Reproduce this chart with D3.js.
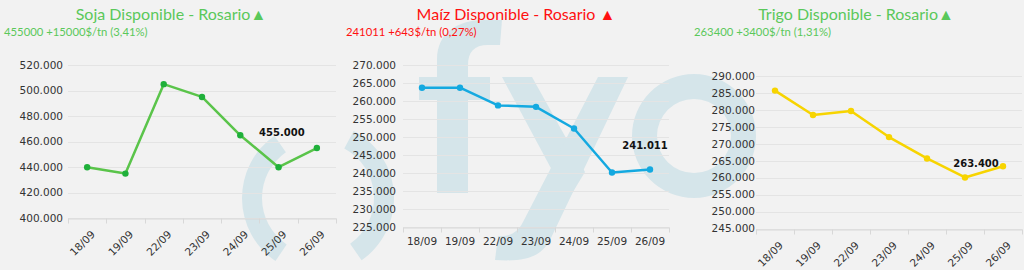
<!DOCTYPE html>
<html>
<head>
<meta charset="utf-8">
<script src="https://cdnjs.cloudflare.com/ajax/libs/d3/7.8.5/d3.min.js"></script>
<style>
  html, body { margin: 0; padding: 0; background: #f2f2f2; }
  svg { display: block; }
</style>
</head>
<body>
<svg id="chart" width="1024" height="270"></svg>
<script>
// data
const dates = ["18/09", "19/09", "22/09", "23/09", "24/09", "25/09", "26/09"];
const soja = [440000, 435000, 505000, 495000, 465000, 440000, 455000];
const maiz = [263700, 263700, 258800, 258400, 252400, 240200, 241011];
const trigo = [285700, 278500, 279700, 272000, 265700, 260100, 263400];

const sojaTicks = [400000, 420000, 440000, 460000, 480000, 500000, 520000];
const maizTicks = [225000, 230000, 235000, 240000, 245000, 250000, 255000, 260000, 265000, 270000];
const trigoTicks = [245000, 250000, 255000, 260000, 265000, 270000, 275000, 280000, 285000, 290000];

const titles = ["Soja Disponible - Rosario▲", "Maíz Disponible - Rosario ▲", "Trigo Disponible - Rosario▲"];
const subtitles = ["455000 +15000$/tn (3,41%)", "241011 +643$/tn (0,27%)", "263400 +3400$/tn (1,31%)"];

const locale = d3.formatLocale({decimal: ",", thousands: ".", grouping: [3], currency: ["$", ""]});
const fmt = locale.format(",d");

const svg = d3.select("#chart");

// background watermark logo
const wm = svg.append("g").attr("fill", "#d5e5ea");
const ring = d3.arc();
const deg = Math.PI / 180;
wm.append("path").attr("transform", "translate(318,198)")
    .attr("d", ring({innerRadius: 56, outerRadius: 76, startAngle: 214 * deg, endAngle: 325 * deg}));
wm.append("path").attr("transform", "translate(318,198)")
    .attr("d", ring({innerRadius: 56, outerRadius: 76, startAngle: 28 * deg, endAngle: 145 * deg}));
wm.append("path")
    .attr("d", "M437,193 L437,60 C437,32 458,20 485,20 L502,20 L500,45 L488,45 C474,45 468,52 468,65 L468,193 Z");
wm.append("path").attr("d", "M419,77 H490 V100 H419 Z");
wm.append("path").attr("d", "M502,77 H532 L585,172 L568,200 Z");
wm.append("path")
    .attr("d", "M598,77 H628 L550,240 C541,257 525,262 495,260 L498,236 C510,237 518,232 523,222 Z");
wm.append("path").attr("transform", "translate(694,136)")
    .attr("d", ring({innerRadius: 37, outerRadius: 62, startAngle: 0, endAngle: 2 * Math.PI}));

const charts = [
  {values: soja, ticks: sojaTicks, title: titles[0], sub: subtitles[0], color: "#5ac85a",
   line: "#5ac44a", dot: "#1fb03a", x0: 68, x1: 336, yTop: 65, yBot: 218.3, rotate: true,
   titleX: 171, subX: 4, labRight: 63, lblDx: -35, lblDy: -12},
  {values: maiz, ticks: maizTicks, title: titles[1], sub: subtitles[1], color: "#ff1010",
   line: "#14a9e0", dot: "#14a9e0", x0: 403, x1: 669, yTop: 65, yBot: 227.3, rotate: false,
   titleX: 516, subX: 346, labRight: 396, lblDx: -5, lblDy: -21},
  {values: trigo, ticks: trigoTicks, title: titles[2], sub: subtitles[2], color: "#5ac85a",
   line: "#f7d400", dot: "#f7d400", x0: 756, x1: 1022, yTop: 76, yBot: 228.7, rotate: true,
   titleX: 856, subX: 694, labRight: 755, lblDx: -27, lblDy: 1}
];

charts.forEach(function (c) {
  const g = svg.append("g");

  const x = d3.scaleBand().domain(dates).range([c.x0, c.x1]);
  const y = d3.scaleLinear()
      .domain([c.ticks[0], c.ticks[c.ticks.length - 1]])
      .range([c.yBot, c.yTop]);

  // title + subtitle
  g.append("text")
      .attr("x", c.titleX).attr("y", 20)
      .attr("text-anchor", "middle")
      .style("font-family", "Lato, 'Open Sans', sans-serif")
      .style("font-size", "16px")
      .attr("fill", c.color)
      .text(c.title);
  g.append("text")
      .attr("x", c.subX).attr("y", 36)
      .style("font-family", "Lato, 'Open Sans', sans-serif")
      .style("font-size", "11.3px")
      .attr("fill", c.color)
      .text(c.sub);

  // grid lines
  g.selectAll(".grid").data(c.ticks).enter().append("line")
      .attr("x1", c.x0).attr("x2", c.x1)
      .attr("y1", function (d) { return Math.round(y(d)) + 0.5; })
      .attr("y2", function (d) { return Math.round(y(d)) + 0.5; })
      .attr("stroke", "#e4e4e4");

  // y labels
  g.selectAll(".ylab").data(c.ticks).enter().append("text")
      .attr("x", c.labRight).attr("y", function (d) { return y(d); })
      .attr("dy", "0.35em")
      .attr("text-anchor", "end")
      .style("font-family", "'DejaVu Sans', Verdana, sans-serif")
      .style("font-size", "10.5px")
      .attr("fill", "#333")
      .text(function (d) { return fmt(d); });

  // x axis
  const xAxis = d3.axisBottom(x).tickSize(0).tickPadding(10);
  const xg = g.append("g")
      .attr("transform", "translate(0," + (Math.round(c.yBot) + 0.5) + ")")
      .call(xAxis);
  xg.select(".domain").attr("stroke", "#d8d8d8");
  xg.selectAll("text")
      .style("font-family", "'DejaVu Sans', Verdana, sans-serif")
      .style("font-size", "10.5px")
      .attr("fill", "#333");
  if (c.rotate) {
    xg.selectAll("text")
        .attr("text-anchor", "end")
        .attr("y", 0).attr("dy", "0.35em")
        .attr("transform", "translate(6,14) rotate(-45)");
  }
  // band edge ticks
  const edges = dates.map(function (d) { return x(d); }).concat([c.x1]);
  xg.selectAll(".edge").data(edges).enter().append("line")
      .attr("x1", function (d) { return Math.round(d) + 0.5; })
      .attr("x2", function (d) { return Math.round(d) + 0.5; })
      .attr("y1", 0).attr("y2", 5)
      .attr("stroke", "#d8d8d8");

  // series
  const cx = function (d, i) { return x(dates[i]) + x.bandwidth() / 2; };
  const line = d3.line().x(cx).y(function (d) { return y(d); });
  g.append("path")
      .datum(c.values)
      .attr("d", line)
      .attr("fill", "none")
      .attr("stroke", c.line)
      .attr("stroke-width", 2.5)
      .attr("stroke-linejoin", "round");
  g.selectAll(".dot").data(c.values).enter().append("circle")
      .attr("cx", cx)
      .attr("cy", function (d) { return y(d); })
      .attr("r", 3.2)
      .attr("fill", c.dot);

  // last value label
  const n = c.values.length - 1;
  g.append("text")
      .attr("x", cx(c.values[n], n) + c.lblDx)
      .attr("y", y(c.values[n]) + c.lblDy)
      .attr("text-anchor", "middle")
      .style("font-family", "'DejaVu Sans', Verdana, sans-serif")
      .style("font-size", "10px")
      .style("font-weight", "bold")
      .attr("fill", "#111")
      .text(fmt(c.values[n]));
});
</script>
</body>
</html>
